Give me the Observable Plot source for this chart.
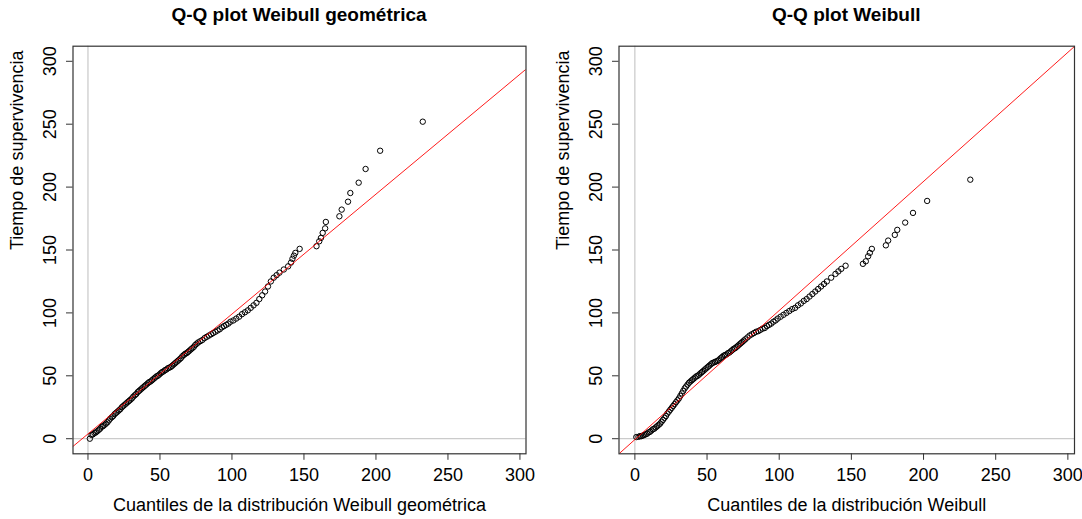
<!DOCTYPE html>
<html><head><meta charset="utf-8">
<script src="https://cdn.jsdelivr.net/npm/d3@7"></script>
<script src="https://cdn.jsdelivr.net/npm/@observablehq/plot@0.6"></script>
<style>
body{margin:0;background:#fff;}
#wrap{position:relative;width:1082px;height:519px;font-family:"Liberation Sans",Arial,sans-serif;overflow:hidden;}
.panel{position:absolute;top:0;}
.title{height:30px;line-height:30px;font-weight:bold;font-size:19px;text-align:center;color:#000;white-space:nowrap;}
</style></head><body><div id="wrap"></div>
<script>
const xTicks = [0, 50, 100, 150, 200, 250, 300];
const yTicks = [0, 50, 100, 150, 200, 250, 300];
const titles = ["Q-Q plot Weibull geométrica", "Q-Q plot Weibull"];
const xLabels = ["Cuantiles de la distribución Weibull geométrica", "Cuantiles de la distribución Weibull"];
const yLabel = "Tiempo de supervivencia";

// Left panel: theoretical quantiles (Weibull geométrica) vs observed times
const qxLeft = [1.3,2.5,3.5,4.5,5.5,6.5,7.5,8.5,9.5,10.5,11.5,12.5,13.5,14.5,15.5,16.5,17.5,18.5,19.5,20.5,21.5,22.5,23.5,24.5,25.5,26.5,27.5,28.5,29.5,30.5,31.5,32.5,33.5,34.5,35.5,36.5,37.5,38.5,39.5,40.5,41.5,42.5,43.5,44.5,45.5,46.5,47.5,48.5,49.5,50.5,51.5,52.5,53.5,54.5,55.5,56.5,57.5,58.5,59.5,60.5,61.5,62.5,63.5,64.5,65.5,66.5,67.5,68.5,69.5,70.5,71.5,72.5,73.5,74.5,75.5,76.5,78,79.5,81,82.5,84,85.5,87,88.5,90,91.5,93,94.5,96,97.5,99,101,103,105,107,109,111,113,115,117,119,121,123,125,127,129,131,133,136,139,141,142,143,144,147,158.7,160.6,161.8,163,164.7,165.2,174.6,176.2,180.6,182.2,188,192.8,202.9,232.5];
const tLeft = [0,3,3.5,4.5,5,6,7,8,9.5,10,11,12,13,14.5,16,17,18,19.5,20.5,21.5,22.5,23.5,25,26,27,28,29,30,31,32,33.5,34.5,35.5,37,38,39,40,41,42,43,44,45,45.5,46.5,47.5,48.5,49.5,50,51,52,53,53.5,54.5,55,56,56.5,57,58,59,60,61,62,63,64,65.5,66.5,67.5,68,69,70,71,72,73,74.5,75.5,76.5,77.5,78.5,80,81,82,83,84,85,86,87,88.5,89.5,90.5,91.5,93,94,95.5,97,99,100.5,102,104,106,108,111,114,117,121,125,128,130,132,134.5,137,140,143,145.5,147.7,150.9,153,156.9,159.6,163.6,167.2,172.3,176.8,182.1,188.4,195.3,203.5,214.4,228.9,252];

// Right panel: theoretical quantiles (Weibull) vs observed times
const qxRight = [1,2.5,3.5,4.5,5.5,6.5,7.5,8.5,9.5,10.5,11.5,12.5,13.5,14.5,15.5,16.5,17.5,18.5,19.5,20.5,21.5,22.5,23.5,24.5,25.5,26.5,27.5,28.5,29.5,30.5,31.5,32.5,33.5,34.5,35.5,36.5,37.5,38.5,39.5,40.5,41.5,42.5,43.5,44.5,45.5,46.5,47.5,48.5,49.5,50.5,51.5,52.5,53.5,54.5,55.5,56.5,57.5,58.5,59.5,60.5,61.5,62.5,63.5,64.5,65.5,66.5,67.5,68.5,69.5,70.5,71.5,72.5,73.5,74.5,75.5,76.5,78,79.5,81,82.5,84,85.5,87,88.5,90,91.5,93,94.5,96,97.5,99,101,103,105,107,109,111,113,115,117,119,121,123,125,127,129,131,133,136,139,141,143,146,158,160,161.6,162.8,164.2,173.9,175.5,180.1,181.8,187.3,192.7,202.5,232.4];
const tRight = [1.3,1.5,2,2,2.5,3,3.5,4,5,5.5,6.5,7.5,8,9,10,11,12,13.5,15,16.5,18,20,21.5,23,24.5,26,27.5,29,30.5,32,34,36,38,40,41.5,43,44.5,45.5,46.5,47.5,48.5,49.5,50,51,52,53,54,55,56,57,58,59,60,60.5,61,61.5,62,63,64,65,66,66.5,67,68,68.5,69.5,70.5,71.5,72,73,74,75,76,77,78,79,80.5,82,83,84,85,85.5,86.5,87.5,88,89.5,90.5,91.5,93,94,95.5,97,98.5,100,101.5,103,104,106,107.5,109.5,111,113,115,117,119,121,123,125,128,131,133,135,137.5,139,141,145,147.7,150.9,153.7,157.5,162,166,171.8,179.5,189,205.9];

// Reference lines (intercept, slope)
const refLeft = [3.8, 0.953];
const refRight = [-0.7, 1.026];

const FONT = '"Liberation Sans", Arial, sans-serif';
const H = 489, MT = 15.7, MB = 65.7, ML = 72.5;

function panel({left, width, mr, xDomain, qx, qy, ref, title, xLabel}) {
  const div = document.createElement("div");
  div.className = "panel";
  div.style.left = left + "px";
  div.style.width = width + "px";
  const t = document.createElement("div");
  t.className = "title";
  t.textContent = title;
  t.style.marginLeft = ML + "px";
  t.style.width = (width - ML - mr) + "px";
  div.appendChild(t);
  const pts = qx.map((x, i) => ({x, y: qy[i]}));
  const line = xDomain.map(x => ({x, y: ref[0] + ref[1] * x}));
  const chart = Plot.plot({
    width, height: H, marginLeft: ML, marginRight: mr, marginTop: MT, marginBottom: MB,
    style: {fontFamily: FONT, fontSize: "18px", color: "black", background: "white", overflow: "visible"},
    x: {domain: xDomain},
    y: {domain: [-12, 312]},
    marks: [
      Plot.ruleX([0], {stroke: "#bebebe", strokeWidth: 1}),
      Plot.ruleY([0], {stroke: "#bebebe", strokeWidth: 1}),
      Plot.dot(pts, {x: "x", y: "y", r: 2.7, stroke: "black", strokeWidth: 1, fill: "none"}),
      Plot.line(line, {x: "x", y: "y", stroke: "red", strokeWidth: 0.9, clip: true}),
      Plot.frame({stroke: "#333", strokeWidth: 1.2}),
      Plot.axisX({ticks: xTicks, tickSize: 6.5, tickPadding: 8, tickFormat: d => String(d), fontSize: 18, stroke: "#333", label: null}),
      Plot.axisY({ticks: yTicks, tickSize: 6.5, tickPadding: 10.8, tickRotate: -90, tickFormat: d => String(d), fontSize: 18, stroke: "#333", label: null}),
      Plot.text([xLabel], {text: d => d, frameAnchor: "bottom", dy: 57.5, lineAnchor: "bottom", fontSize: 18}),
      Plot.text([yLabel], {text: d => d, frameAnchor: "left", rotate: -90, dx: -50, lineAnchor: "bottom", fontSize: 18})
    ]
  });
  div.appendChild(chart);
  document.getElementById("wrap").appendChild(div);
}

panel({left: 0, width: 546, mr: 20.5, xDomain: [-10.4, 304.2], qx: qxLeft, qy: tLeft, ref: refLeft, title: titles[0], xLabel: xLabels[0]});
panel({left: 546, width: 536, mr: 8, xDomain: [-11, 304.6], qx: qxRight, qy: tRight, ref: refRight, title: titles[1], xLabel: xLabels[1]});
</script>
</body></html>
